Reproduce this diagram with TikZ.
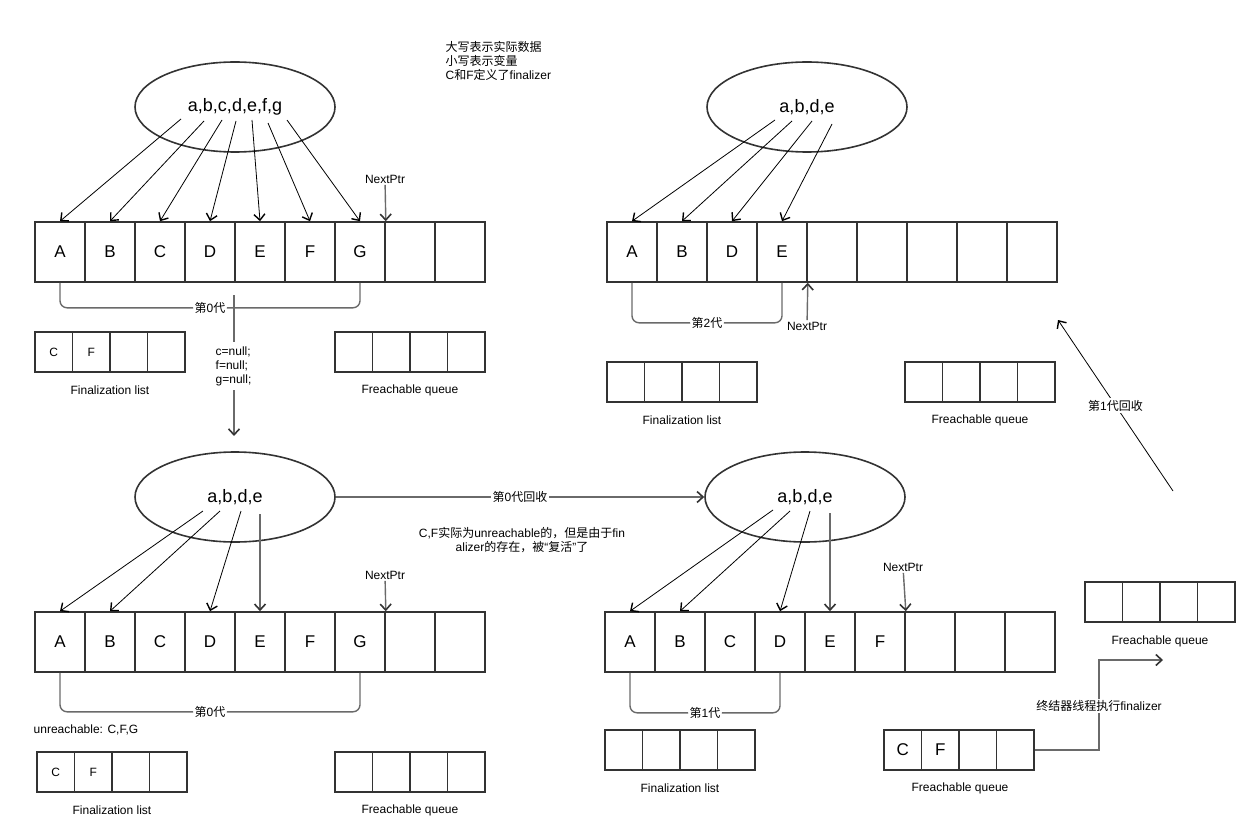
\documentclass[tikz,border=0pt]{standalone}
\usepackage{fontspec}
\setmainfont{Liberation Sans}
\newfontfamily\zhf{Noto Sans CJK SC}
\usetikzlibrary{shapes.geometric,arrows.meta,calc}
\definecolor{boxc}{HTML}{333333}
\definecolor{grayc}{HTML}{6A6A6A}
\begin{document}
\begin{tikzpicture}[x=1pt,y=-1pt,
  cell/.style={draw=boxc,line width=1.6pt,minimum width=50pt,minimum height=60pt,inner sep=0pt,font=\fontsize{17}{17}\selectfont},
  qcell/.style={draw=boxc,line width=1.6pt,minimum width=37.5pt,minimum height=40pt,inner sep=0pt,font=\fontsize{12}{12}\selectfont},
  qbig/.style={qcell,font=\fontsize{17}{17}\selectfont},
  oval/.style={ellipse,draw=boxc,line width=1.6pt,minimum width=200pt,minimum height=90pt,inner sep=0pt,font=\fontsize{18}{18}\selectfont},
  lbl/.style={font=\fontsize{12}{14}\selectfont,inner sep=1.5pt},
  thinarrow/.style={draw=black,line width=0.8pt,-{Straight Barb[length=6pt,width=11pt,line width=1.4pt]}},
  garrow/.style={draw=grayc,line width=1.4pt,-{Straight Barb[length=6pt,width=11pt,line width=1.6pt,color=boxc]}},
  gline/.style={draw=grayc,line width=1.4pt,rounded corners=7pt}
]
\useasboundingbox (0,0) rectangle (1255,837);

% ---------------- notes ----------------
\node[lbl,anchor=north west,align=left] (note) at (444,40)
  {{\zhf 大写表示实际数据}\\{\zhf 小写表示变量}\\C{\zhf 和}F{\zhf 定义了}finalizer};

% ---------------- panel 1 (top left) ----------------
\node[oval] (p1e) at (235,107) {a,b,c,d,e,f,g};
\foreach \i/\t in {1/A,2/B,3/C,4/D,5/E,6/F,7/G,8/{},9/{}}
  \node[cell] (p1c\i) at ({10+50*\i},252) {\t};
\foreach \i/\sx/\sy in {1/181/119,2/204/121,3/222/120,4/236/121,5/252/120,6/268/123,7/287/120}{
  \coordinate (p1s\i) at (\sx,\sy);
  \draw[thinarrow] (p1s\i) -- (p1c\i.north);
}
\node[lbl] (p1np) at (385,179) {NextPtr};
\draw[garrow] (p1np) -- (p1c7.north east);
\draw[gline] (p1c1.south) -- ($(p1c1.south)+(0,25)$) -- node[lbl,fill=white] (p1g) {{\zhf 第}0{\zhf 代}} ($(p1c7.south)+(0,25)$) -- (p1c7.south);
\foreach \i/\t in {1/C,2/F,3/{},4/{}}
  \node[qcell] (p1f\i) at ({16.25+37.5*\i},352) {\t};
\foreach \i in {1,...,4}
  \node[qcell] (p1q\i) at ({316.25+37.5*\i},352) {};
\node[lbl] (p1fl) at (110,390) {Finalization list};
\node[lbl] (p1ql) at (410,390) {Freachable queue};

% transition 1 -> 3
\coordinate (v0) at (234,295);
\coordinate (v1) at (234,436);
\draw[garrow] (v0) -- (v1);
\node[lbl,fill=white,anchor=west,align=left,inner ysep=4pt] (nulls) at (214,366) {c=null;\\f=null;\\g=null;};

% ---------------- panel 2 (top right) ----------------
\node[oval] (p2e) at (807,107) {a,b,d,e};
\foreach \i/\t in {1/A,2/B,3/D,4/E,5/{},6/{},7/{},8/{},9/{}}
  \node[cell] (p2c\i) at ({582+50*\i},252) {\t};
\foreach \i/\sx/\sy in {1/775/120,2/792/121,3/812/121,4/832/124}{
  \coordinate (p2s\i) at (\sx,\sy);
  \draw[thinarrow] (p2s\i) -- (p2c\i.north);
}
\node[lbl] (p2np) at (807,326) {NextPtr};
\draw[garrow] (p2np) -- (p2c4.south east);
\draw[gline] (p2c1.south) -- ($(p2c1.south)+(0,40)$) -- node[lbl,fill=white] (p2g) {{\zhf 第}2{\zhf 代}} ($(p2c4.south)+(0,40)$) -- (p2c4.south);
\foreach \i in {1,...,4}
  \node[qcell] (p2f\i) at ({588.25+37.5*\i},382) {};
\foreach \i in {1,...,4}
  \node[qcell] (p2q\i) at ({886.25+37.5*\i},382) {};
\node[lbl] (p2fl) at (682,420) {Finalization list};
\node[lbl] (p2ql) at (980,420) {Freachable queue};

% ---------------- panel 3 (bottom left) ----------------
\node[oval] (p3e) at (235,497) {a,b,d,e};
\foreach \i/\t in {1/A,2/B,3/C,4/D,5/E,6/F,7/G,8/{},9/{}}
  \node[cell] (p3c\i) at ({10+50*\i},642) {\t};
\coordinate (p3s1) at (203,511);
\coordinate (p3s2) at (220,511);
\coordinate (p3s4) at (241,511);
\coordinate (p3s5) at (260,514);
\draw[thinarrow] (p3s1) -- (p3c1.north);
\draw[thinarrow] (p3s2) -- (p3c2.north);
\draw[thinarrow] (p3s4) -- (p3c4.north);
\draw[garrow] (p3s5) -- (p3c5.north);
\node[lbl] (p3np) at (385,575) {NextPtr};
\draw[garrow] (p3np) -- (p3c7.north east);
\draw[gline] (p3c1.south) -- ($(p3c1.south)+(0,39)$) -- node[lbl,fill=white] (p3g) {{\zhf 第}0{\zhf 代}} ($(p3c7.south)+(0,39)$) -- (p3c7.south);
\node[lbl,anchor=west] (unr) at (32,730) {unreachable: C,F,G};
\foreach \i/\t in {1/C,2/F,3/{},4/{}}
  \node[qcell] (p3f\i) at ({18.25+37.5*\i},772) {\t};
\foreach \i in {1,...,4}
  \node[qcell] (p3q\i) at ({316.25+37.5*\i},772) {};
\node[lbl] (p3fl) at (112,810) {Finalization list};
\node[lbl] (p3ql) at (410,810) {Freachable queue};

% transition 3 -> 4
\node[oval] (p4e) at (805,497) {a,b,d,e};
\draw[garrow] (p3e) -- node[lbl,fill=white] (g0l) {{\zhf 第}0{\zhf 代回收}} (p4e);
\node[lbl,align=center] (cfnote) at (522,540)
  {C,F{\zhf 实际为}unreachable{\zhf 的，但是由于}fin\\alizer{\zhf 的存在，被}“{\zhf 复活}”{\zhf 了}};

% ---------------- panel 4 (bottom right) ----------------
\foreach \i/\t in {1/A,2/B,3/C,4/D,5/E,6/F,7/{},8/{},9/{}}
  \node[cell] (p4c\i) at ({580+50*\i},642) {\t};
\coordinate (p4s1) at (773,510);
\coordinate (p4s2) at (790,511);
\coordinate (p4s4) at (810,511);
\coordinate (p4s5) at (830,513);
\draw[thinarrow] (p4s1) -- (p4c1.north);
\draw[thinarrow] (p4s2) -- (p4c2.north);
\draw[thinarrow] (p4s4) -- (p4c4.north);
\draw[garrow] (p4s5) -- (p4c5.north);
\node[lbl] (p4np) at (903,567) {NextPtr};
\draw[garrow] (p4np) -- (p4c6.north east);
\draw[gline] (p4c1.south) -- ($(p4c1.south)+(0,40)$) -- node[lbl,fill=white] (p4g) {{\zhf 第}1{\zhf 代}} ($(p4c4.south)+(0,40)$) -- (p4c4.south);
\foreach \i in {1,...,4}
  \node[qcell] (p4f\i) at ({586.25+37.5*\i},750) {};
\foreach \i/\t in {1/C,2/F,3/{},4/{}}
  \node[qbig] (p4q\i) at ({865.25+37.5*\i},750) {\t};
\node[lbl] (p4fl) at (680,788) {Finalization list};
\node[lbl] (p4ql) at (960,788) {Freachable queue};
\foreach \i in {1,...,4}
  \node[qcell] (p5q\i) at ({1066.25+37.5*\i},602) {};
\node[lbl] (p5ql) at (1160,641) {Freachable queue};

% finalizer thread
\coordinate (fb) at (1099,660);
\coordinate (fend) at (1163,660);
\draw[garrow] (p4q4.east) -| (fb) -- (fend);
\node[lbl,fill=white] (flab) at (1099,706) {{\zhf 终结器线程执行}finalizer};

% gen 1 collection
\coordinate (r1s) at (1173,491);
\coordinate (r1e) at (1058,320);
\draw[thinarrow] (r1s) -- node[lbl,fill=white] (r1l) {{\zhf 第}1{\zhf 代回收}} (r1e);
\end{tikzpicture}
\end{document}
